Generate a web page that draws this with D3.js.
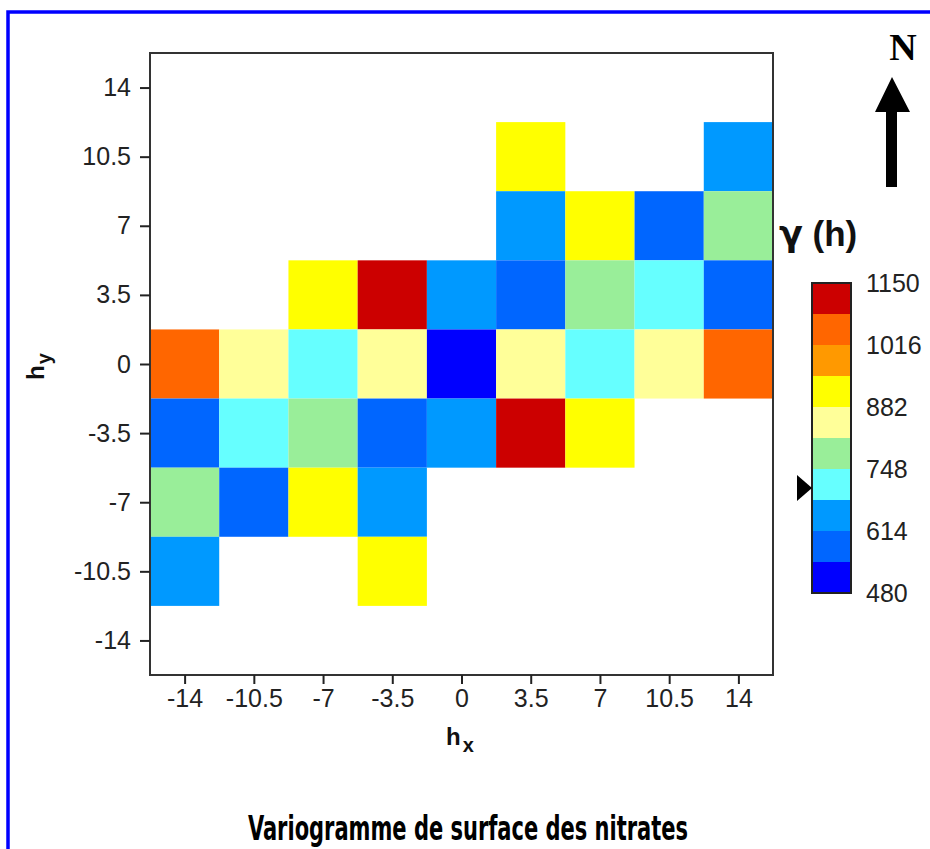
<!DOCTYPE html>
<html>
<head>
<meta charset="utf-8">
<script src="https://cdn.jsdelivr.net/npm/d3@7"></script>
<style>
  html, body { margin: 0; padding: 0; background: #fff; }
  svg { display: block; }
</style>
</head>
<body>
<script>
// Lag values (m) along x (east) and y (north)
const hxValues = [-14, -10.5, -7, -3.5, 0, 3.5, 7, 10.5, 14];
const hyValues = [14, 10.5, 7, 3.5, 0, -3.5, -7, -10.5, -14];

// Semivariance gamma(h) per lag cell, rows follow hyValues, columns follow hxValues
const gammaRows = [
  [null, null, null, null, null, null, null, null, null],
  [null, null, null, null, null, 921, null, null, 652],
  [null, null, null, null, null, 638, 905, 586, 790],
  [null, null, 897, 1124, 660, 575, 772, 720, 598],
  [1042, 851, 705, 838, 500, 838, 705, 851, 1042],
  [598, 720, 772, 575, 660, 1124, 897, null, null],
  [790, 586, 905, 638, null, null, null, null, null],
  [652, null, null, 921, null, null, null, null, null],
  [null, null, null, null, null, null, null, null, null]
];

// Colour classes of the legend
const classBreaks = [480, 547, 614, 681, 748, 815, 882, 949, 1016, 1083, 1150];
const classColors = ["#0000ff", "#0066ff", "#0099ff", "#66ffff", "#99ee99",
                     "#ffff99", "#ffff00", "#ff9900", "#ff6600", "#cc0000"];
const legendLabels = [480, 614, 748, 882, 1016, 1150];
const tickLabels = [-14, -10.5, -7, -3.5, 0, 3.5, 7, 10.5, 14];
const sillMarker = 707;

const W = 930, H = 849;
const labelFont = "'Liberation Sans Narrow', 'Liberation Sans', Arial, sans-serif";
const svg = d3.select("body").append("svg").attr("width", W).attr("height", H);

// Outer blue frame (runs past the right and bottom edges)
svg.append("rect")
  .attr("x", 8).attr("y", 12).attr("width", W + 20).attr("height", H + 20)
  .attr("fill", "#fff").attr("stroke", "#0000ff").attr("stroke-width", 3.5);

const plot = { left: 150, right: 773, top: 53, bottom: 675 };
const x = d3.scaleLinear().domain([-15.75, 15.75]).range([plot.left, plot.right]);
const y = d3.scaleLinear().domain([-15.75, 15.75]).range([plot.bottom, plot.top]);
const color = d3.scaleThreshold().domain(classBreaks.slice(1, -1)).range(classColors);

const cells = [];
gammaRows.forEach((row, i) => row.forEach((v, j) => {
  if (v !== null) cells.push({ hx: hxValues[j], hy: hyValues[i], v });
}));

const step = 3.5;
svg.append("g").selectAll("rect").data(cells).join("rect")
  .attr("x", d => x(d.hx - step / 2))
  .attr("y", d => y(d.hy + step / 2))
  .attr("width", d => x(d.hx + step / 2) - x(d.hx - step / 2))
  .attr("height", d => y(d.hy - step / 2) - y(d.hy + step / 2))
  .attr("fill", d => color(d.v));

// Plot box
svg.append("rect")
  .attr("x", plot.left).attr("y", plot.top)
  .attr("width", plot.right - plot.left).attr("height", plot.bottom - plot.top)
  .attr("fill", "none").attr("stroke", "#333").attr("stroke-width", 2);

const fmt = d => String(d);
const xAxis = svg.append("g").attr("transform", `translate(0,${plot.bottom})`)
  .call(d3.axisBottom(x).tickValues(tickLabels).tickFormat(fmt).tickSize(9).tickPadding(5));
const yAxis = svg.append("g").attr("transform", `translate(${plot.left},0)`)
  .call(d3.axisLeft(y).tickValues(tickLabels).tickFormat(fmt).tickSize(10).tickPadding(9));
[xAxis, yAxis].forEach(g => {
  g.select(".domain").remove();
  g.selectAll(".tick line").attr("stroke", "#222").attr("stroke-width", 2);
  g.selectAll(".tick text").attr("fill", "#222")
    .style("font-family", labelFont).style("font-size", "25px");
});

// Axis titles
const hx = svg.append("text").attr("x", 446).attr("y", 745)
  .style("font-family", "'Liberation Sans', Arial, sans-serif").style("font-weight", "bold")
  .style("font-size", "24px").attr("fill", "#111");
hx.append("tspan").text("h");
hx.append("tspan").attr("dy", 7).attr("dx", 2).style("font-size", "20px").text("x");

const hy = svg.append("text").attr("transform", "translate(44,380) rotate(-90)")
  .style("font-family", "'Liberation Sans', Arial, sans-serif").style("font-weight", "bold")
  .style("font-size", "24px").attr("fill", "#111");
hy.append("tspan").text("h");
hy.append("tspan").attr("dy", 7).attr("dx", 1).style("font-size", "20px").text("y");

// Colour legend
const leg = { left: 812, width: 39, top: 283, bottom: 593 };
const ly = d3.scaleLinear().domain([480, 1150]).range([leg.bottom, leg.top]);
svg.append("g").selectAll("rect").data(classColors).join("rect")
  .attr("x", leg.left).attr("width", leg.width)
  .attr("y", (c, i) => ly(classBreaks[i + 1]))
  .attr("height", (c, i) => ly(classBreaks[i]) - ly(classBreaks[i + 1]))
  .attr("fill", c => c);
svg.append("rect").attr("x", leg.left).attr("y", leg.top)
  .attr("width", leg.width).attr("height", leg.bottom - leg.top)
  .attr("fill", "none").attr("stroke", "#222").attr("stroke-width", 2);
svg.append("g").selectAll("text").data(legendLabels).join("text")
  .attr("x", 866).attr("y", d => ly(d)).attr("dy", "0.36em")
  .style("font-family", labelFont).style("font-size", "25px")
  .attr("fill", "#222").text(d => d);
const my = ly(sillMarker);
svg.append("path")
  .attr("d", `M797,${my - 13} L812,${my} L797,${my + 13} Z`).attr("fill", "#000");

const gTitle = svg.append("text").attr("x", 779).attr("y", 246)
  .style("font-weight", "bold").style("font-size", "35px").attr("fill", "#111");
gTitle.append("tspan").style("font-family", "'DejaVu Sans', sans-serif").text("γ");
gTitle.append("tspan").style("font-family", "'Liberation Sans', Arial, sans-serif").text(" (h)");

// North arrow
svg.append("text").attr("x", 903).attr("y", 60).attr("text-anchor", "middle")
  .style("font-family", "'Liberation Serif', 'Times New Roman', serif").style("font-weight", "bold")
  .style("font-size", "38px").attr("fill", "#000").text("N");
svg.append("path")
  .attr("d", "M892,77 L910,112 L897,112 L897,187 L886,187 L886,112 L875,112 Z")
  .attr("fill", "#000");

// Title
svg.append("text").attr("x", 468).attr("y", 840).attr("text-anchor", "middle")
  .attr("textLength", 440).attr("lengthAdjust", "spacingAndGlyphs")
  .style("font-family", "'Liberation Sans Narrow', 'DejaVu Sans Condensed', sans-serif")
  .style("font-weight", "bold").style("font-size", "34px").attr("fill", "#000")
  .text("Variogramme de surface des nitrates");
</script>
</body>
</html>
